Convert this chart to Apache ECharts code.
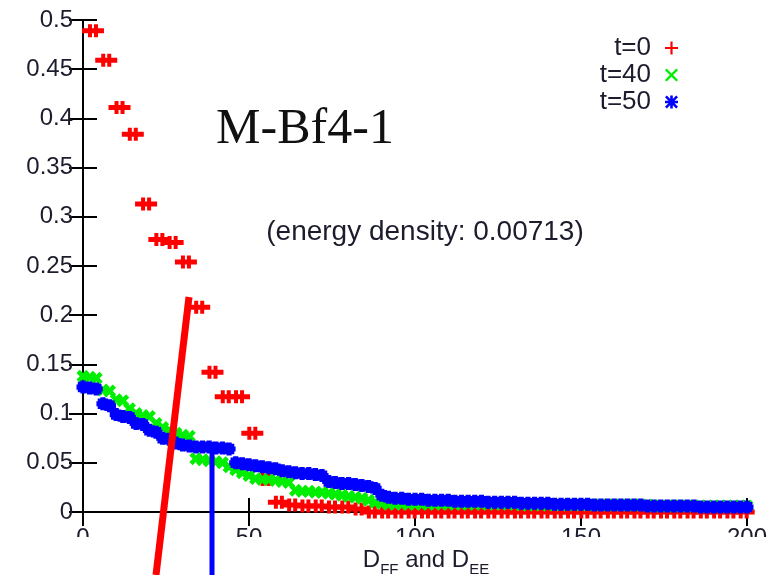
<!DOCTYPE html>
<html>
<head>
<meta charset="utf-8">
<script src="https://cdn.jsdelivr.net/npm/echarts@6/dist/echarts.min.js"></script>
<style>
  html, body { margin: 0; padding: 0; background: #fff; }
  #chart { width: 784px; height: 575px; }
</style>
</head>
<body>
<div id="chart"></div>
<script>
// t=0 : one point every 4 units
const redX = [3, 7, 11, 15, 19, 23, 27, 31, 35, 39, 43, 47, 51, 55, 59, 63, 67, 71, 75, 79,
  83, 87, 91, 95, 99, 103, 107, 111, 115, 119, 123, 127, 131, 135, 139, 143, 147, 151, 155, 159,
  163, 167, 171, 175, 179, 183, 187, 191, 195, 199];
const redY = [0.489, 0.459, 0.411, 0.384, 0.313, 0.277, 0.274, 0.254, 0.208, 0.142,
  0.117, 0.117, 0.080, 0.033, 0.010, 0.007, 0.006, 0.006, 0.005, 0.005,
  0.003, 0, 0, 0, 0, 0, 0, 0, 0, 0,
  0, 0, 0, 0, 0, 0, 0, 0, 0, 0,
  0, 0, 0, 0, 0, 0, 0, 0, 0, 0];

// t=40 and t=50 : one point every 2 units, x = 0..200
const denseX = [0, 2, 4, 6, 8, 10, 12, 14, 16, 18, 20, 22, 24, 26, 28, 30, 32, 34, 36, 38,
  40, 42, 44, 46, 48, 50, 52, 54, 56, 58, 60, 62, 64, 66, 68, 70, 72, 74, 76, 78,
  80, 82, 84, 86, 88, 90, 92, 94, 96, 98, 100, 102, 104, 106, 108, 110, 112, 114, 116, 118,
  120, 122, 124, 126, 128, 130, 132, 134, 136, 138, 140, 142, 144, 146, 148, 150, 152, 154, 156, 158,
  160, 162, 164, 166, 168, 170, 172, 174, 176, 178, 180, 182, 184, 186, 188, 190, 192, 194, 196, 198, 200];
const greenY = [0.138, 0.137, 0.136, 0.124, 0.123, 0.114, 0.113, 0.105, 0.100, 0.098,
  0.097, 0.090, 0.086, 0.083, 0.080, 0.078, 0.077, 0.054, 0.053, 0.052,
  0.051, 0.050, 0.046, 0.043, 0.040, 0.037, 0.034, 0.033, 0.033, 0.032,
  0.031, 0.030, 0.022, 0.021, 0.021, 0.020, 0.020, 0.019, 0.018, 0.017,
  0.016, 0.015, 0.014, 0.012, 0.010, 0.009, 0.008, 0.008, 0.008, 0.008,
  0.008, 0.008, 0.008, 0.008, 0.008, 0.008, 0.008, 0.008, 0.008, 0.008,
  0.008, 0.008, 0.008, 0.008, 0.008, 0.008, 0.007, 0.007, 0.007, 0.007,
  0.007, 0.007, 0.007, 0.007, 0.007, 0.007, 0.007, 0.007, 0.007, 0.007,
  0.007, 0.007, 0.007, 0.007, 0.007, 0.007, 0.006, 0.006, 0.006, 0.006,
  0.006, 0.006, 0.006, 0.006, 0.006, 0.006, 0.006, 0.006, 0.006, 0.006, 0.006];
const blueY = [0.127, 0.126, 0.125, 0.110, 0.108, 0.099, 0.097, 0.096, 0.090, 0.089,
  0.083, 0.081, 0.075, 0.074, 0.070, 0.068, 0.067, 0.066, 0.066, 0.066,
  0.065, 0.065, 0.064, 0.050, 0.049, 0.048, 0.047, 0.046, 0.045, 0.044,
  0.042, 0.041, 0.040, 0.039, 0.039, 0.038, 0.037, 0.031, 0.030, 0.029,
  0.029, 0.028, 0.027, 0.026, 0.024, 0.017, 0.015, 0.014, 0.014, 0.013,
  0.013, 0.013, 0.012, 0.012, 0.012, 0.012, 0.011, 0.011, 0.011, 0.011,
  0.011, 0.010, 0.010, 0.010, 0.010, 0.010, 0.009, 0.009, 0.009, 0.009,
  0.009, 0.008, 0.008, 0.008, 0.008, 0.008, 0.008, 0.007, 0.007, 0.007,
  0.007, 0.007, 0.007, 0.007, 0.007, 0.006, 0.006, 0.006, 0.006, 0.006,
  0.006, 0.006, 0.006, 0.005, 0.005, 0.005, 0.005, 0.005, 0.005, 0.005, 0.005];

const seriesNames = ['t=0', 't=40', 't=50'];

// marker shapes
const hashPlus = 'path://M0,4H22V9H0Z M6,0H10V13H6Z M12,0H16V13H12Z';
const thinPlus = 'path://M5,0H7V12H5Z M0,5H12V7H0Z';
const crossX = 'path://M0,1.5L1.5,0L6,4.5L10.5,0L12,1.5L7.5,6L12,10.5L10.5,12L6,7.5L1.5,12L0,10.5L4.5,6Z';
const thickX = 'path://M0,3L3,0L6,3L9,0L12,3L9,6L12,9L9,12L6,9L3,12L0,9L3,6Z';
const star = 'path://M4,0H6V10H4Z M0,4H10V6H0Z M1.4,0L10,8.6L8.6,10L0,1.4Z M8.6,0L10,1.4L1.4,10L0,8.6Z';
const blob = 'path://M3,0H7V3H10V7H7V10H3V7H0V3H3Z M1,1L9,9 M1,1H4L9,6V9H6L1,4Z M9,1V4L4,9H1V6L6,1Z';

const txt = '#1c1c2c';
const font = 'Liberation Sans';

const chart = echarts.init(document.getElementById('chart'));

const axisCommon = {
  type: 'value',
  axisLine: { show: true, lineStyle: { color: '#000', width: 2 } },
  axisTick: { show: true, inside: true, length: 14, lineStyle: { color: '#000', width: 2 } },
  splitLine: { show: false },
};

const option = {
  backgroundColor: '#fff',
  animation: false,
  grid: { left: 83, right: 37, top: 20, bottom: 63, containLabel: false, outerBoundsMode: 'none' },
  xAxis: [
    Object.assign({}, axisCommon, {
      position: 'bottom', min: 0, max: 200, interval: 50,
      axisLabel: { show: true, margin: 14, fontSize: 24, fontFamily: font, color: txt,
        showMinLabel: true, showMaxLabel: true },
      name: '{n|D}{s|FF}{n| and D}{s|EE}',
      nameLocation: 'middle', nameGap: 36, nameMoveOverlap: false,
      nameTextStyle: {
        padding: [0, 0, 0, 22],
        rich: {
          n: { fontSize: 24, fontFamily: font, color: txt, verticalAlign: 'bottom', padding: [0, 0, 5, 0] },
          s: { fontSize: 15, fontFamily: font, color: txt, verticalAlign: 'bottom' }
        }
      }
    }),
    Object.assign({}, axisCommon, {
      position: 'top', min: 0, max: 200, interval: 50,
      axisLabel: { show: false }
    })
  ],
  yAxis: [
    Object.assign({}, axisCommon, {
      position: 'left', min: 0, max: 0.5, interval: 0.05,
      axisLabel: { show: true, margin: 10, fontSize: 24, fontFamily: font, color: txt,
        showMinLabel: true, showMaxLabel: true }
    }),
    Object.assign({}, axisCommon, {
      position: 'right', min: 0, max: 0.5, interval: 0.05,
      axisLabel: { show: false }
    })
  ],
  legend: {
    orient: 'vertical', right: 101, top: 30, align: 'right',
    itemWidth: 13, itemHeight: 13, itemGap: 1,
    textStyle: { fontSize: 26, fontFamily: font, color: txt, padding: [0, 9, 0, 0] },
    data: [
      { name: seriesNames[0], icon: thinPlus },
      { name: seriesNames[1], icon: crossX },
      { name: seriesNames[2], icon: star }
    ]
  },
  series: [
    {
      name: seriesNames[0], type: 'scatter', clip: false,
      symbol: hashPlus, symbolSize: [22, 13],
      itemStyle: { color: '#ff0000', opacity: 1 },
      data: redX.map((x, i) => [x, redY[i]])
    },
    {
      name: seriesNames[1], type: 'scatter', clip: false,
      symbol: thickX, symbolSize: 13,
      itemStyle: { color: '#00ee00', opacity: 1 },
      data: denseX.map((x, i) => [x, greenY[i]])
    },
    {
      name: seriesNames[2], type: 'scatter', clip: false,
      symbol: blob, symbolSize: 13,
      itemStyle: { color: '#0000ff', opacity: 1 },
      data: denseX.map((x, i) => [x, blueY[i]])
    }
  ],
  graphic: [
    { type: 'rect', z: 100, shape: { x: 40, y: 537, width: 744, height: 9 }, style: { fill: '#fff' } },
    { type: 'line', z: 101, shape: { x1: 189, y1: 297, x2: 156, y2: 575 },
      style: { stroke: '#ff0000', lineWidth: 7 } },
    { type: 'line', z: 101, shape: { x1: 212, y1: 449, x2: 212, y2: 575 },
      style: { stroke: '#0000ff', lineWidth: 5 } },
    { type: 'text', z: 100, x: 305, y: 130,
      style: { text: 'M-Bf4-1', font: '50px "Liberation Serif"', fill: '#111',
        textAlign: 'center', textVerticalAlign: 'middle', align: 'center', verticalAlign: 'middle' } },
    { type: 'text', z: 100, x: 425, y: 232,
      style: { text: '(energy density: 0.00713)', font: '28px "Liberation Sans"', fill: txt,
        textAlign: 'center', textVerticalAlign: 'middle', align: 'center', verticalAlign: 'middle' } }
  ]
};

chart.setOption(option);
</script>
</body>
</html>
